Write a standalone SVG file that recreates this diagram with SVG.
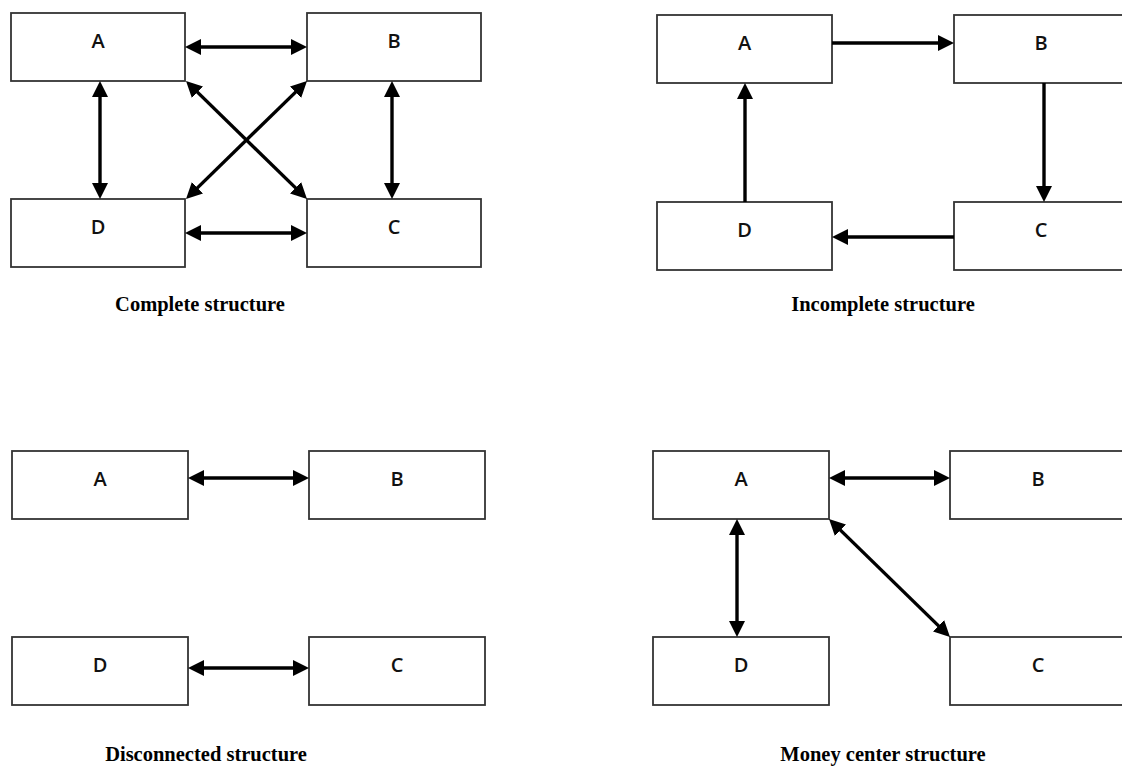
<svg xmlns="http://www.w3.org/2000/svg" width="1122" height="778" viewBox="0 0 1122 778">
<style>
.box{fill:#fff;stroke:#333;stroke-width:1.8}
.lbl{font-family:"Open Sans",Lato,"Liberation Sans",sans-serif;font-size:20px;font-weight:600;fill:#111;text-anchor:middle}
.cap{font-family:"Liberation Serif","Times New Roman",serif;font-size:20.5px;font-weight:bold;fill:#000;text-anchor:middle}
.ln{stroke:#000;stroke-width:3.4;fill:none}
.bi{marker-start:url(#ah);marker-end:url(#ah)}
.uni{marker-end:url(#ah)}
</style>
<defs>
<marker id="ah" markerUnits="userSpaceOnUse" viewBox="0 0 16 16" markerWidth="16" markerHeight="16" refX="4" refY="8" orient="auto-start-reverse">
<path d="M0,0 L16,8 L0,16 Z" fill="#000"/>
</marker>
</defs>
<rect width="1122" height="778" fill="#fff"/>

<!-- Complete structure -->
<g id="c-A"><rect class="box" x="11" y="13" width="174" height="68"/><text class="lbl" x="98" y="48">A</text></g>
<g id="c-B"><rect class="box" x="307" y="13" width="174" height="68"/><text class="lbl" x="394" y="48">B</text></g>
<g id="c-D"><rect class="box" x="11" y="199" width="174" height="68"/><text class="lbl" x="98" y="234">D</text></g>
<g id="c-C"><rect class="box" x="307" y="199" width="174" height="68"/><text class="lbl" x="394" y="234">C</text></g>
<g id="c-connectors">
<line class="ln bi" x1="197" y1="47" x2="295" y2="47"/>
<line class="ln bi" x1="197" y1="233" x2="295" y2="233"/>
<line class="ln bi" x1="100" y1="93" x2="100" y2="187"/>
<line class="ln bi" x1="392" y1="93" x2="392" y2="187"/>
<line class="ln bi" x1="194.6" y1="89.4" x2="298.4" y2="190.6"/>
<line class="ln bi" x1="298.4" y1="89.4" x2="194.6" y2="190.6"/>
</g>
<text id="cap-complete" class="cap" x="200" y="311">Complete structure</text>

<!-- Incomplete structure -->
<g id="i-A"><rect class="box" x="657" y="15" width="175" height="68"/><text class="lbl" x="744.5" y="50">A</text></g>
<g id="i-B"><rect class="box" x="954" y="15" width="175" height="68"/><text class="lbl" x="1041" y="50">B</text></g>
<g id="i-D"><rect class="box" x="657" y="202" width="175" height="68"/><text class="lbl" x="744.5" y="237">D</text></g>
<g id="i-C"><rect class="box" x="954" y="202" width="175" height="68"/><text class="lbl" x="1041" y="237">C</text></g>
<g id="i-connectors">
<line class="ln uni" x1="832" y1="43" x2="942" y2="43"/>
<line class="ln uni" x1="1044" y1="83" x2="1044" y2="190"/>
<line class="ln uni" x1="954" y1="237" x2="844" y2="237"/>
<line class="ln uni" x1="745" y1="202" x2="745" y2="95"/>
</g>
<text id="cap-incomplete" class="cap" x="883" y="311">Incomplete structure</text>

<!-- Disconnected structure -->
<g id="d-A"><rect class="box" x="12" y="451" width="176" height="68"/><text class="lbl" x="100" y="486">A</text></g>
<g id="d-B"><rect class="box" x="309" y="451" width="176" height="68"/><text class="lbl" x="397" y="486">B</text></g>
<g id="d-D"><rect class="box" x="12" y="637" width="176" height="68"/><text class="lbl" x="100" y="672">D</text></g>
<g id="d-C"><rect class="box" x="309" y="637" width="176" height="68"/><text class="lbl" x="397" y="672">C</text></g>
<g id="d-connectors">
<line class="ln bi" x1="200" y1="478" x2="297" y2="478"/>
<line class="ln bi" x1="200" y1="668" x2="297" y2="668"/>
</g>
<text id="cap-disconnected" class="cap" x="206" y="761">Disconnected structure</text>

<!-- Money center structure -->
<g id="m-A"><rect class="box" x="653" y="451" width="176" height="68"/><text class="lbl" x="741" y="486">A</text></g>
<g id="m-B"><rect class="box" x="950" y="451" width="176" height="68"/><text class="lbl" x="1038" y="486">B</text></g>
<g id="m-D"><rect class="box" x="653" y="637" width="176" height="68"/><text class="lbl" x="741" y="672">D</text></g>
<g id="m-C"><rect class="box" x="950" y="637" width="176" height="68"/><text class="lbl" x="1038" y="672">C</text></g>
<g id="m-connectors">
<line class="ln bi" x1="841" y1="478" x2="938" y2="478"/>
<line class="ln bi" x1="737" y1="531" x2="737" y2="625"/>
<line class="ln bi" x1="837.6" y1="527.4" x2="941.4" y2="628.6"/>
</g>
<text id="cap-money" class="cap" x="883" y="761">Money center structure</text>
</svg>
